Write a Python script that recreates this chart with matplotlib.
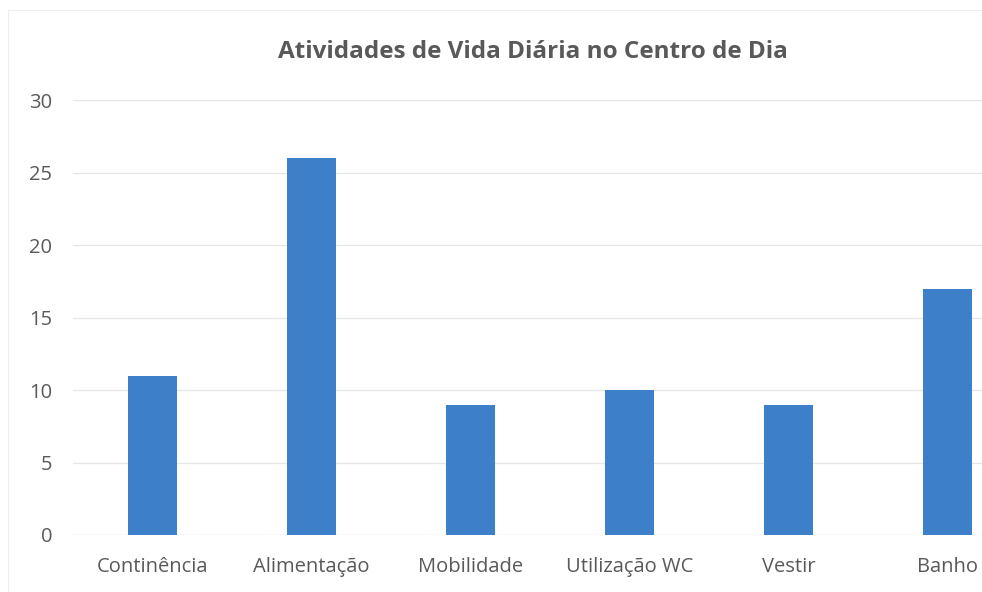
import matplotlib.pyplot as plt
from matplotlib.patches import Rectangle

# data
categories = ["Continência", "Alimentação", "Mobilidade", "Utilização WC", "Vestir", "Banho"]
values = [11, 26, 9, 10, 9, 17]
y_ticks = [0, 5, 10, 15, 20, 25, 30]
title = "Atividades de Vida Diária no Centro de Dia"

plt.rcParams["font.family"] = ["Open Sans", "DejaVu Sans"]

W, H = 982, 592
fig = plt.figure(figsize=(W / 100, H / 100), dpi=100)

# axes run past the right edge, as in the cropped scan
left, right, bottom, top = 73, 1027, 535, 100
ax = fig.add_axes([left / W, (H - bottom) / H, (right - left) / W, (bottom - top) / H])

x = list(range(len(categories)))
ax.bar(x, values, width=0.31, color="#3D80C9", zorder=3)

ax.set_xlim(-0.5, len(categories) - 0.5)
ax.set_ylim(0, 30)
ax.set_yticks(y_ticks)
ax.set_xticks(x)
ax.set_xticklabels(categories)
ax.tick_params(axis="both", length=0, labelsize=14.5, labelcolor="#595959")
ax.tick_params(axis="y", pad=15)
ax.tick_params(axis="x", pad=16)
ax.grid(axis="y", color="#E6E6E6", lw=0.9, zorder=0)
for s in ax.spines.values():
    s.set_visible(False)
ax.axhline(0, color="#E6E6E6", lw=0.9, zorder=1)

fig.text(533 / W, 1 - 52 / H, title, ha="center", va="center",
         fontsize=17.5, fontweight="bold", color="#595959")

# faint chart border from the scan
fig.patches.append(Rectangle((8 / W, -0.1), 1.1, 1 - 10 / H + 0.1, transform=fig.transFigure,
                             fill=False, ec="#EEEEEE", lw=0.8))

fig.savefig("out.png", dpi=100)
